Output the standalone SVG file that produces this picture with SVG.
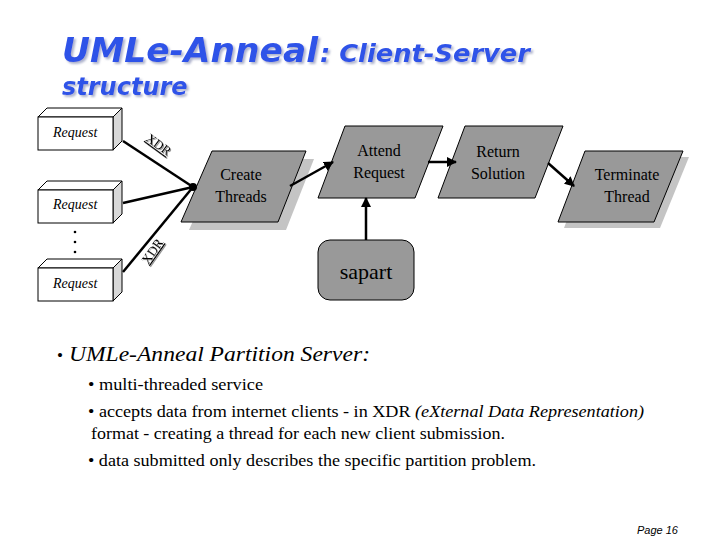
<svg xmlns="http://www.w3.org/2000/svg" width="720" height="540" viewBox="0 0 720 540">
<defs>
<style>
.title{font-family:"DejaVu Sans",sans-serif;font-weight:bold;font-style:italic;fill:#2f52e8}
.box{fill:#fff;stroke:#000;stroke-width:1}
.side{fill:#d8d8d8;stroke:#000;stroke-width:1}
.req{font-family:"Liberation Serif",serif;font-style:italic;font-size:14px;fill:#000}
.para{fill:#999;stroke:#000;stroke-width:1}
.shadow{fill:#c4c4c4}
.lbl{font-family:"Liberation Serif",serif;font-size:16px;fill:#000;text-anchor:middle}
.conn{stroke:#000;stroke-width:2.5;fill:none}
.body{font-family:"Liberation Serif",serif;font-size:17.5px;fill:#000}
</style>
<filter id="ts" x="-5%" y="-20%" width="110%" height="150%">
<feDropShadow dx="2" dy="2" stdDeviation="0.8" flood-color="#9aa0c0" flood-opacity="0.8"/>
</filter>
<filter id="xs" x="-20%" y="-20%" width="140%" height="140%">
<feDropShadow dx="1" dy="1" stdDeviation="0.3" flood-color="#888" flood-opacity="0.9"/>
</filter>
<marker id="ah" viewBox="0 0 10 10" refX="9" refY="5" markerWidth="4" markerHeight="4" orient="auto" markerUnits="strokeWidth">
<path d="M0,0 L10,5 L0,10 z" fill="#000"/>
</marker>
</defs>
<rect width="720" height="540" fill="#fff"/>

<g id="title" filter="url(#ts)">
<text class="title" x="62" y="62" font-size="34" textLength="256" lengthAdjust="spacingAndGlyphs">UMLe-Anneal</text>
<text class="title" x="320" y="62" font-size="24" textLength="210" lengthAdjust="spacingAndGlyphs">: Client-Server</text>
<text class="title" x="62" y="95" font-size="24">structure</text>
</g>

<g id="request1">
<path class="side" d="M113,117 L122,108 L122,141 L113,150 z"/>
<path class="box" d="M38,117 L47,108 L122,108 L113,117 z"/>
<rect class="box" x="38" y="117" width="75" height="33"/>
<text class="req" x="53" y="137">Request</text>
</g>
<g id="request2">
<path class="side" d="M113,190 L122,181 L122,214 L113,223 z"/>
<path class="box" d="M38,190 L47,181 L122,181 L113,190 z"/>
<rect class="box" x="38" y="190" width="75" height="33"/>
<text class="req" x="53" y="209">Request</text>
</g>
<g id="dots" fill="#000">
<circle cx="75" cy="232" r="1.3"/>
<circle cx="75" cy="242" r="1.3"/>
<circle cx="75" cy="252" r="1.3"/>
</g>
<g id="request3">
<path class="side" d="M113,268 L122,259 L122,292 L113,301 z"/>
<path class="box" d="M38,268 L47,259 L122,259 L113,268 z"/>
<rect class="box" x="38" y="268" width="75" height="33"/>
<text class="req" x="53" y="288">Request</text>
</g>

<g id="create-threads">
<polygon class="shadow" points="220,159 314,159 286,230 189,230"/>
<polygon class="para" points="212,151 306,151 278,222 181,222"/>
<text class="lbl" x="241" y="180">Create</text>
<text class="lbl" x="241" y="202">Threads</text>
</g>

<g id="attend-request">
<polygon class="para" points="345,126 443,126 415,198 318,198"/>
<text class="lbl" x="379" y="156">Attend</text>
<text class="lbl" x="379" y="178">Request</text>
</g>

<g id="return-solution">
<polygon class="para" points="465,126 563,126 535,198 438,198"/>
<text class="lbl" x="498" y="157">Return</text>
<text class="lbl" x="498" y="179">Solution</text>
</g>

<g id="terminate-thread">
<polygon class="shadow" points="591,157 689,157 660,228 564,228"/>
<polygon class="para" points="585,151 683,151 654,222 558,222"/>
<text class="lbl" x="627" y="180">Terminate</text>
<text class="lbl" x="627" y="202">Thread</text>
</g>

<g id="sapart">
<rect x="318" y="240" width="96" height="60" rx="12" fill="#999" stroke="#000" stroke-width="1"/>
<text x="366" y="279" font-family="Liberation Serif,serif" font-size="22" text-anchor="middle">sapart</text>
</g>

<g id="connectors">
<line class="conn" x1="123" y1="141" x2="193" y2="187"/>
<line class="conn" x1="123" y1="203" x2="193" y2="187"/>
<line class="conn" x1="123" y1="272" x2="193" y2="187"/>
<circle cx="193" cy="187" r="4" fill="#000"/>
<line class="conn" x1="290" y1="186" x2="333" y2="162" marker-end="url(#ah)"/>
<line class="conn" x1="428" y1="162" x2="456" y2="162" marker-end="url(#ah)"/>
<line class="conn" x1="548" y1="163" x2="574" y2="186" marker-end="url(#ah)"/>
<line class="conn" x1="366" y1="240" x2="366" y2="198" marker-end="url(#ah)"/>
<g font-family="Liberation Serif,serif" font-size="13" filter="url(#xs)">
<text x="0" y="0" fill="#000" text-decoration="underline" transform="translate(145,140) rotate(36)">XDR</text>
<text x="0" y="0" fill="#000" text-decoration="underline" transform="translate(148,265) rotate(-55)">XDR</text>
</g>
</g>

<g id="text-body">
<text x="57" y="361" font-family="Liberation Serif,serif" font-size="22" font-style="italic" textLength="313" lengthAdjust="spacingAndGlyphs"><tspan font-style="normal" font-size="16">•</tspan> UMLe-Anneal Partition Server:</text>
<text class="body" x="88" y="390" textLength="175" lengthAdjust="spacingAndGlyphs">• multi-threaded service</text>
<text class="body" x="88" y="417" textLength="556" lengthAdjust="spacingAndGlyphs">• accepts data from internet clients - in XDR <tspan font-style="italic">(eXternal Data Representation)</tspan></text>
<text class="body" x="91" y="439" textLength="414" lengthAdjust="spacingAndGlyphs">format - creating a thread for each new client submission.</text>
<text class="body" x="88" y="466" textLength="448" lengthAdjust="spacingAndGlyphs">• data submitted only describes the specific partition problem.</text>
</g>

<text x="637" y="534" font-family="Liberation Sans,sans-serif" font-style="italic" font-size="11">Page 16</text>
</svg>
